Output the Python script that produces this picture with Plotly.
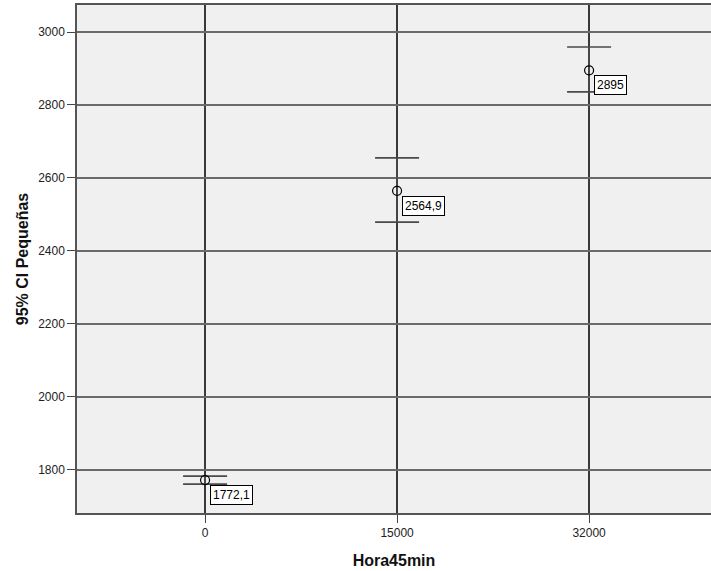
import plotly.graph_objects as go

# Hora45min groups and the mean / 95% CI of "Pequeñas" per group
categories = ["0", "15000", "32000"]
means = [1772.1, 2564.9, 2895.0]
ci_upper = [1783.0, 2655.0, 2959.0]
ci_lower = [1761.0, 2479.0, 2836.0]
mean_labels = ["1772,1", "2564,9", "2895"]
y_ticks = [1800, 2000, 2200, 2400, 2600, 2800, 3000]

err_plus = [u - m for u, m in zip(ci_upper, means)]
err_minus = [m - l for m, l in zip(means, ci_lower)]

fig = go.Figure()
fig.add_trace(go.Scatter(
    x=categories, y=means, mode="markers",
    marker=dict(symbol="circle-open", size=9, color="#000000", line=dict(width=1.2)),
    error_y=dict(type="data", symmetric=False, array=err_plus, arrayminus=err_minus,
                 color="#4a4a4a", thickness=1.6, width=22),
    showlegend=False, hoverinfo="skip",
))

# value labels next to each mean (category axis -> position by index)
for idx, (m, txt) in enumerate(zip(means, mean_labels)):
    fig.add_annotation(
        x=idx, y=m, text=txt, showarrow=False,
        xanchor="left", yanchor="top", xshift=5, yshift=-5,
        bgcolor="#ffffff", bordercolor="#000000", borderwidth=1, borderpad=2,
        font=dict(family="Arial, Liberation Sans", size=12, color="#000000"),
    )

fig.update_layout(
    width=711, height=571,
    margin=dict(l=77, r=0, t=5, b=58),
    paper_bgcolor="#ffffff", plot_bgcolor="#f0f0f0",
    font=dict(family="Arial, Liberation Sans", size=12, color="#222222"),
)
fig.update_xaxes(
    type="category", range=[-0.667, 2.635],
    showgrid=True, gridcolor="#3a3a3a", gridwidth=1.5,
    showline=True, linecolor="#555555", linewidth=1.5, mirror=True,
    ticks="outside", ticklen=8, tickcolor="#444444", tickwidth=1.2,
    tickfont=dict(size=12, color="#222222"),
    title=dict(text="<b>Hora45min</b>", font=dict(size=16, color="#111111"), standoff=16),
    zeroline=False,
)
fig.update_yaxes(
    range=[1682, 3074], tickvals=y_ticks,
    showgrid=True, gridcolor="#6a6a6a", gridwidth=1.5,
    showline=True, linecolor="#555555", linewidth=1.5, mirror=False,
    ticks="outside", ticklen=8, tickcolor="#444444", tickwidth=1.2,
    tickfont=dict(size=12, color="#222222"),
    title=dict(text="<b>95% CI Pequeñas</b>", font=dict(size=16, color="#111111"), standoff=6),
    zeroline=False,
)

fig.write_html("out.html")
